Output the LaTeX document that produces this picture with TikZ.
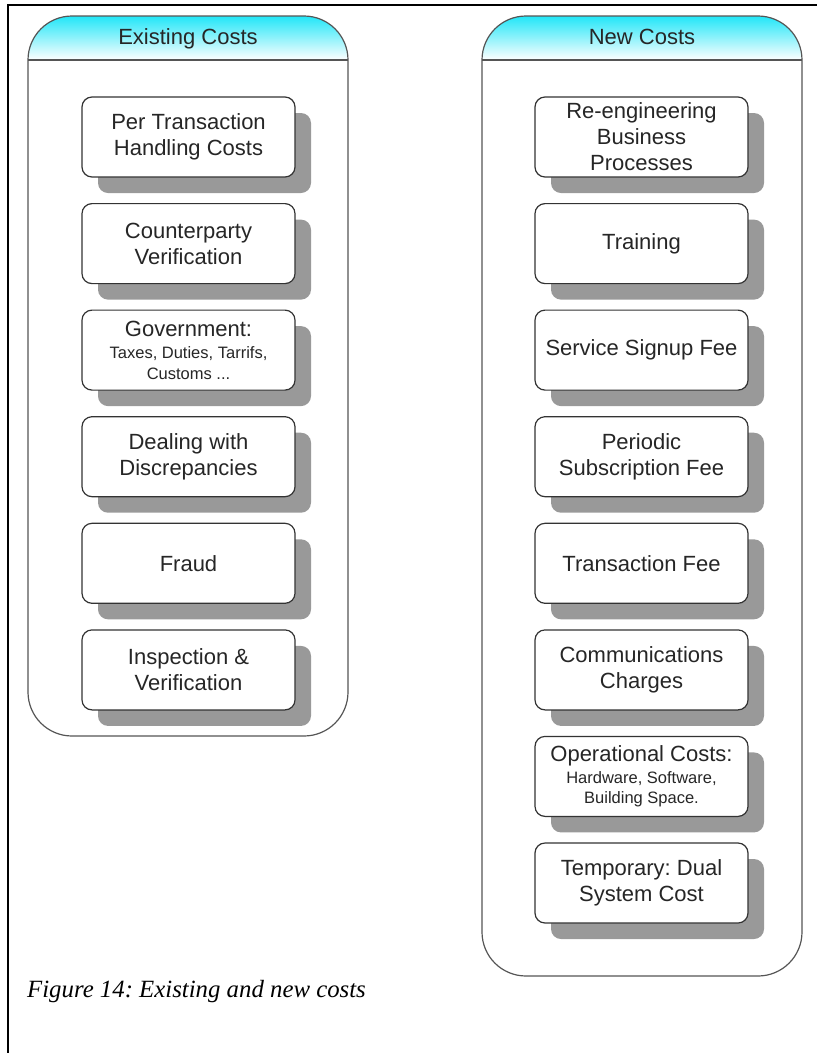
\documentclass[tikz,border=0pt]{standalone}
\usepackage{fontspec}
\setmainfont{Liberation Sans}
\newfontfamily\captionserif{Liberation Serif}
\usetikzlibrary{shadows}

\definecolor{headcyan}{HTML}{22E6F8}
\definecolor{inktext}{HTML}{262626}
\definecolor{boxline}{HTML}{333333}
\definecolor{panelline}{HTML}{555555}
\definecolor{shadowgray}{HTML}{999999}

\newcommand{\smalltxt}{\fontsize{16.5}{20}\selectfont}

\begin{document}
\frenchspacing
\begin{tikzpicture}[x=1pt,y=-1pt,
  costbox/.style={draw=boxline, line width=1.2pt, fill=white, rounded corners=10pt,
    minimum width=213pt, minimum height=80pt, inner sep=0pt, align=center,
    text=inktext, font=\fontsize{22}{26}\selectfont,
    drop shadow={shadow xshift=16pt, shadow yshift=-16pt, fill=shadowgray, opacity=1}},
  paneltitle/.style={anchor=base, text=inktext, font=\fontsize{22}{26}\selectfont, inner sep=0pt},
  panelborder/.style={draw=panelline, line width=1.2pt, rounded corners=44pt},
  frameline/.style={draw=black, line width=2pt}
]
\useasboundingbox (0,0) rectangle (817,1053);

% page frame (top and left rules)
\draw[frameline] (817,5) -- (8,5) -- (8,1053);

% two panels: left x 28..348, right x 482..802
\foreach \xl/\xr/\yb in {28/348/736, 482/802/976}{
  \begin{scope}
    \clip[rounded corners=44pt] (\xl,\yb) -- (\xl,16) -- (\xr,16) -- (\xr,\yb) -- cycle;
    \shade[top color=headcyan, bottom color=white] (\xl,16) rectangle (\xr,60);
  \end{scope}
  \draw[panelborder] (\xl,\yb) -- (\xl,16) -- (\xr,16) -- (\xr,\yb) -- cycle;
  \draw[draw=panelline, line width=1.2pt] (\xl,60) -- (\xr,60);
}

\node[paneltitle] (exhead) at (188,44) {Existing Costs};
\node[paneltitle] (nwhead) at (642,44) {New Costs};

% existing costs
\node[costbox] (ex1) at (188.5,137.0) {Per Transaction\\Handling Costs};
\node[costbox] (ex2) at (188.5,243.6) {Counterparty\\Verification};
\node[costbox] (ex3) at (188.5,350.1) {Government:\\[-4pt]{\smalltxt Taxes, Duties, Tarrifs,}\\[-5pt]{\smalltxt Customs ...}};
\node[costbox] (ex4) at (188.5,456.7) {Dealing with\\Discrepancies};
\node[costbox] (ex5) at (188.5,563.3) {Fraud};
\node[costbox] (ex6) at (188.5,669.9) {Inspection \&\\Verification};

% new costs
\node[costbox] (nw1) at (641.5,137.0) {Re-engineering\\Business\\Processes};
\node[costbox] (nw2) at (641.5,243.6) {Training};
\node[costbox] (nw3) at (641.5,350.1) {Service Signup Fee};
\node[costbox] (nw4) at (641.5,456.7) {Periodic\\Subscription Fee};
\node[costbox] (nw5) at (641.5,563.3) {Transaction Fee};
\node[costbox] (nw6) at (641.5,669.9) {Communications\\Charges};
\node[costbox] (nw7) at (641.5,776.4) {Operational Costs:\\[-4pt]{\smalltxt Hardware, Software,}\\[-6pt]{\smalltxt Building Space.}};
\node[costbox] (nw8) at (641.5,883.0) {Temporary: Dual\\System Cost};

% caption
\node[anchor=base west, inner sep=0pt, font=\captionserif\itshape\fontsize{24.8}{29}\selectfont]
  (caption) at (27,997) {Figure 14: Existing and new costs};
\end{tikzpicture}
\end{document}
